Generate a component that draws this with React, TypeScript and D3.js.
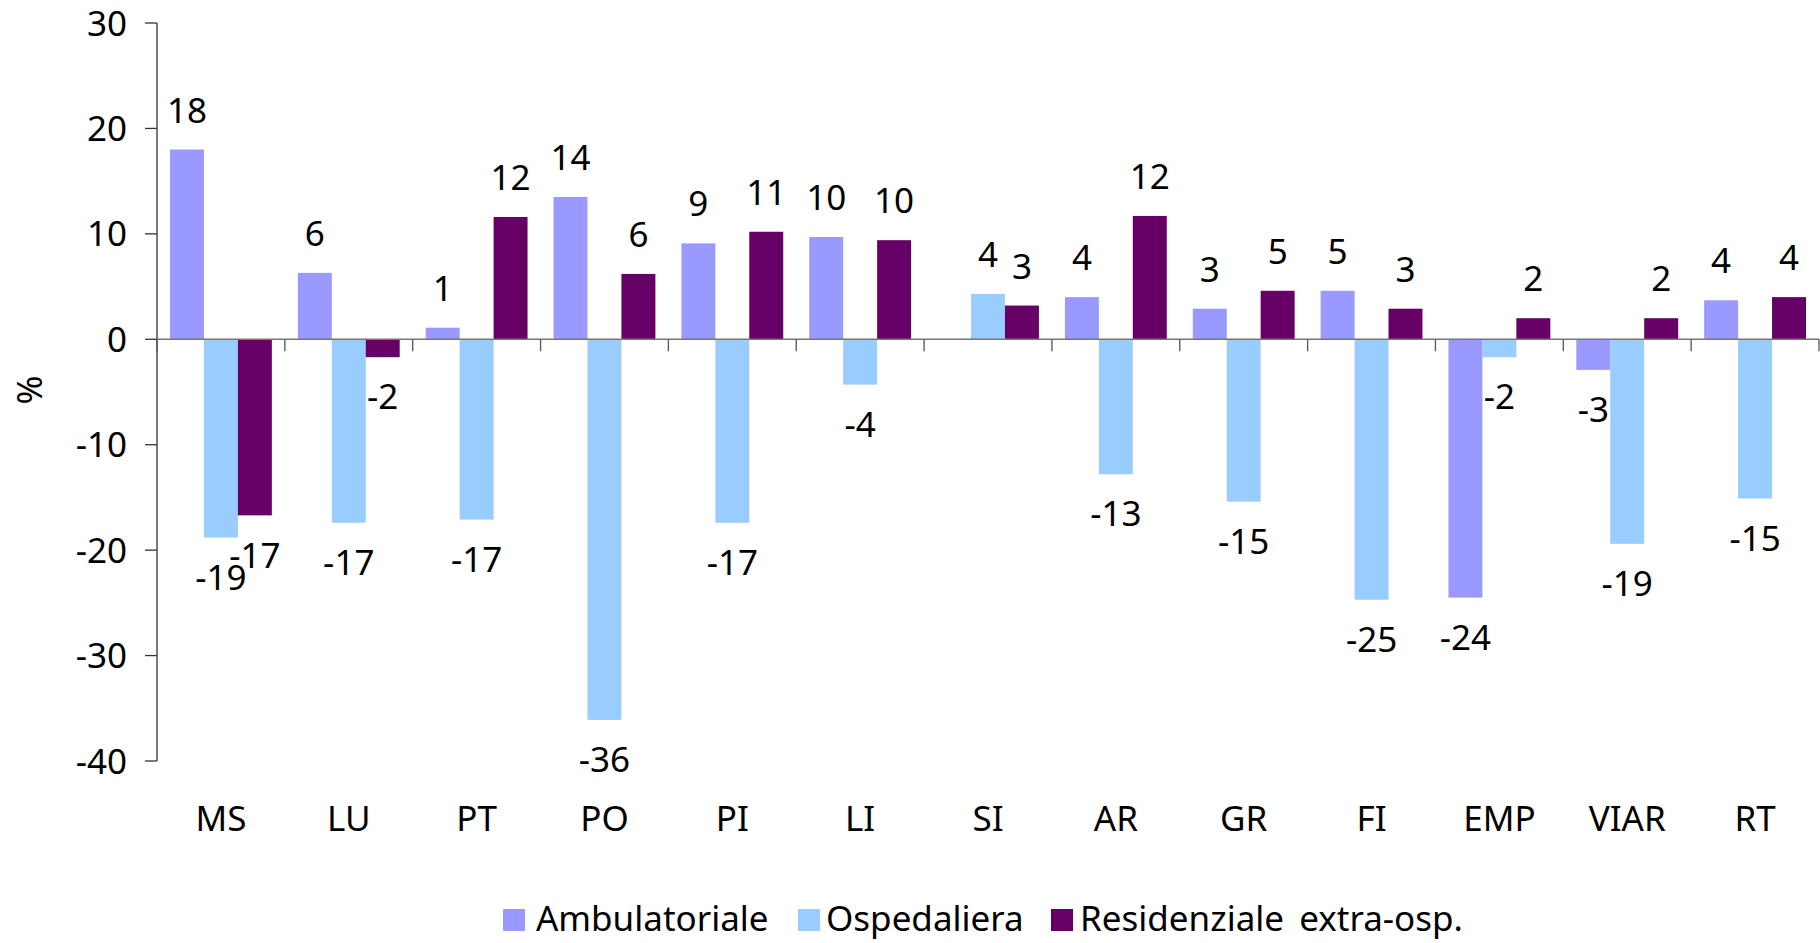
import React from 'react';
import * as d3 from 'd3';

const categories = ['MS', 'LU', 'PT', 'PO', 'PI', 'LI', 'SI', 'AR', 'GR', 'FI', 'EMP', 'VIAR', 'RT'];
const seriesNames = ['Ambulatoriale', 'Ospedaliera', 'Residenziale extra-osp.'];
const seriesColors = ['#9999FF', '#99CCFF', '#660066'];

// bar heights
const ambulatoriale = [18.0, 6.3, 1.1, 13.5, 9.1, 9.7, null, 4.0, 2.9, 4.6, -24.5, -2.9, 3.7];
const ospedaliera = [-18.8, -17.4, -17.1, -36.1, -17.4, -4.3, 4.3, -12.8, -15.4, -24.7, -1.7, -19.4, -15.1];
const residenziale = [-16.7, -1.7, 11.6, 6.2, 10.2, 9.4, 3.2, 11.7, 4.6, 2.9, 2.0, 2.0, 4.0];

// data labels as printed on the chart
const ambLabels = ['18', '6', '1', '14', '9', '10', '', '4', '3', '5', '-24', '-3', '4'];
const ospLabels = ['-19', '-17', '-17', '-36', '-17', '-4', '4', '-13', '-15', '-25', '-2', '-19', '-15'];
const resLabels = ['-17', '-2', '12', '6', '11', '10', '3', '12', '5', '3', '2', '2', '4'];

const yTicks = [30, 20, 10, 0, -10, -20, -30, -40];

const W = 1820;
const H = 943;
const FONT = '"Noto Sans", Tahoma, sans-serif';
const FS = 35;

export default function App() {
  const left = 157;
  const right = 1819;
  const x = d3.scaleBand<string>().domain(categories).range([left, right]).paddingInner(0).paddingOuter(0);
  const y = d3.scaleLinear().domain([-40, 30]).range([761, 23]);
  const inner = d3.scaleBand<number>().domain([0, 1, 2]).range([13, x.bandwidth() - 13]);

  const values = [ambulatoriale, ospedaliera, residenziale];
  const labels = [ambLabels, ospLabels, resLabels];
  const y0 = y(0);

  const bars: React.ReactNode[] = [];
  const texts: React.ReactNode[] = [];
  values.forEach((series, s) => {
    series.forEach((v, i) => {
      if (v === null) return;
      const bx = (x(categories[i]) ?? 0) + (inner(s) ?? 0);
      const bw = inner.bandwidth();
      const top = Math.min(y(v), y0);
      const h = Math.abs(y(v) - y0);
      bars.push(<rect key={`b${s}-${i}`} x={bx} y={top} width={bw} height={h} fill={seriesColors[s]} />);
      const lab = labels[s][i];
      if (lab) {
        const ty = v >= 0 ? y(v) - 27 : y(v) + 27 + FS * 0.72;
        texts.push(
          <text key={`t${s}-${i}`} x={bx + bw / 2} y={ty} textAnchor="middle" fontSize={FS} fontFamily={FONT} fill="#000">
            {lab}
          </text>
        );
      }
    });
  });

  const legendItems = [
    { sx: 503, tx: 536 },
    { sx: 798, tx: 826 },
    { sx: 1051, tx: 1080 },
  ];

  return (
    <svg width={W} height={H} style={{ position: 'absolute', left: 0, top: 0, background: '#fff' }}>
      {/* y axis */}
      <line x1={left} x2={left} y1={y(30)} y2={y(-40)} stroke="#333" strokeWidth={1.3} />
      {yTicks.map((t) => (
        <g key={t}>
          <line x1={left - 12} x2={left} y1={y(t)} y2={y(t)} stroke="#333" strokeWidth={1.3} />
          <text x={127} y={y(t) + FS * 0.36} textAnchor="end" fontSize={FS} fontFamily={FONT}>
            {t}
          </text>
        </g>
      ))}
      <text transform={`translate(${42},${390}) rotate(-90)`} textAnchor="middle" fontSize={FS} fontFamily={FONT}>
        %
      </text>

      {bars}

      {/* x axis at zero */}
      <line x1={left} x2={right} y1={y0} y2={y0} stroke="#777" strokeWidth={1.5} />
      {categories.map((c) => (
        <line key={`xt${c}`} x1={x(c)} x2={x(c)} y1={y0} y2={y0 + 12} stroke="#555" strokeWidth={1.3} />
      ))}
      <line x1={right} x2={right} y1={y0} y2={y0 + 12} stroke="#555" strokeWidth={1.3} />

      {texts}

      {categories.map((c) => (
        <text key={`c${c}`} x={(x(c) ?? 0) + x.bandwidth() / 2} y={831} textAnchor="middle" fontSize={FS} fontFamily={FONT}>
          {c}
        </text>
      ))}

      {seriesNames.map((n, i) => (
        <g key={n}>
          <rect x={legendItems[i].sx} y={909} width={22} height={22} fill={seriesColors[i]} />
          <text x={legendItems[i].tx} y={931} fontSize={FS} fontFamily={FONT} wordSpacing={i === 2 ? 6 : 0}>
            {n}
          </text>
        </g>
      ))}
    </svg>
  );
}
